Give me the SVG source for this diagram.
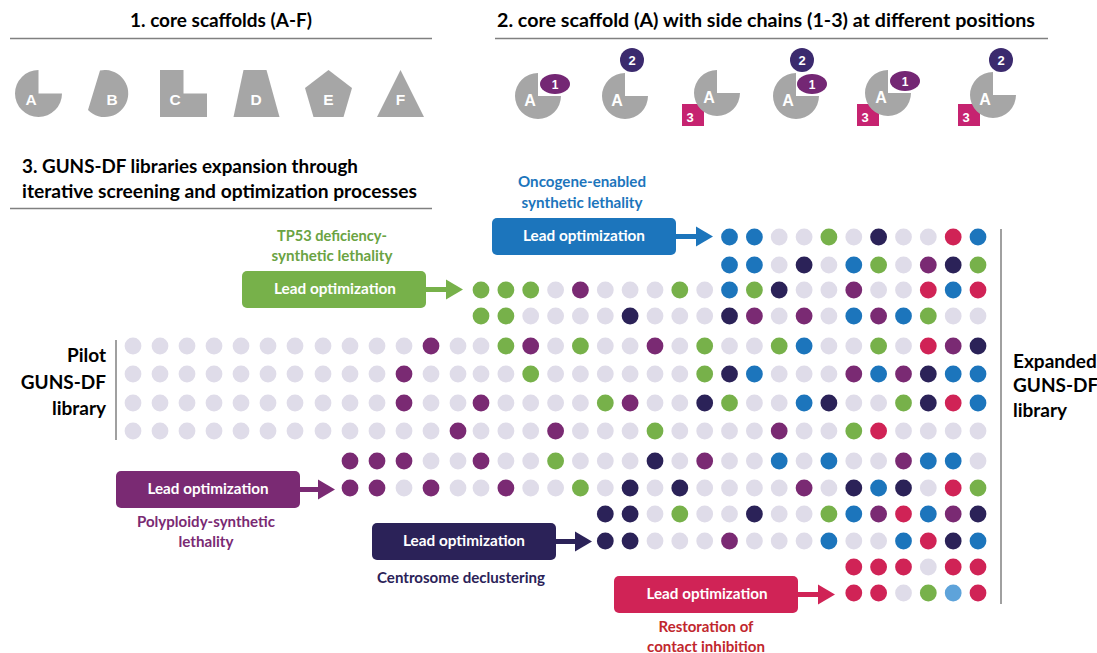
<svg xmlns="http://www.w3.org/2000/svg" width="1097" height="653" viewBox="0 0 1097 653">
<style>
.t{font-family:Lato,"Open Sans","Liberation Sans",sans-serif;font-weight:700}
.s{font-family:"Liberation Sans",Arial,sans-serif;font-weight:700;fill:#fff;text-anchor:middle}
.gray{fill:#a6a6a6}
.rule{stroke:#808080;stroke-width:1.5;fill:none}
.L{fill:#dfdce9}.G{fill:#77b14a}.P{fill:#7a2a73}.N{fill:#2b2258}.B{fill:#1c75bc}.R{fill:#d02356}.LB{fill:#5ea3da}
.c1{fill:#742774}.c2{fill:#3b2a6e}.c3{fill:#c62370}
.box text{font-size:15px;fill:#fff;text-anchor:middle}
</style>
<rect width="1097" height="653" fill="#fff"/>

<!-- titles -->
<g id="title1">
<text class="t" x="221" y="27" font-size="18" text-anchor="middle" textLength="182" lengthAdjust="spacingAndGlyphs">1. core scaffolds (A-F)</text>
<line class="rule" x1="10" y1="38.5" x2="432" y2="38.5"/>
</g>
<g id="title2">
<text class="t" x="497" y="27" font-size="18" textLength="538" lengthAdjust="spacingAndGlyphs">2. core scaffold (A) with side chains (1-3) at different positions</text>
<line class="rule" x1="495" y1="38.5" x2="1048" y2="38.5"/>
</g>
<g id="title3">
<text class="t" x="22" y="173" font-size="18" textLength="336" lengthAdjust="spacingAndGlyphs">3. GUNS-DF libraries expansion through</text>
<text class="t" x="22" y="198" font-size="18" textLength="395" lengthAdjust="spacingAndGlyphs">iterative screening and optimization processes</text>
<line class="rule" x1="10" y1="208.5" x2="432" y2="208.5"/>
</g>

<!-- section 1 scaffolds -->
<g id="scaffoldA"><path class="gray" d="M38.5,93.5 V70 A23.5,23.5 0 1 0 62,93.5 Z"/><text class="s" x="31" y="105" font-size="15.5">A</text></g>
<g id="scaffoldB"><path class="gray" d="M100,70.5 A23.5,23.5 0 1 1 88,110 Z"/><text class="s" x="112" y="105" font-size="15.5">B</text></g>
<g id="scaffoldC"><path class="gray" d="M160,70 H183.5 V93.5 H207 V117 H160 Z"/><text class="s" x="175" y="105" font-size="15.5">C</text></g>
<g id="scaffoldD"><path class="gray" d="M243.5,70 H266.5 L279.5,117 H233.5 Z"/><text class="s" x="256" y="105" font-size="15.5">D</text></g>
<g id="scaffoldE"><path class="gray" d="M328.5,70 L352,88 L343.5,117 H313.5 L305,88 Z"/><text class="s" x="328.5" y="105" font-size="15.5">E</text></g>
<g id="scaffoldF"><path class="gray" d="M400.5,70 L424,117 H377 Z"/><text class="s" x="400.5" y="105" font-size="15.5">F</text></g>

<!-- section 2 variants -->
<g id="variant1">
<path class="gray" d="M538,96 V73 A23,23 0 1 0 561,96 Z"/>
<ellipse class="c1" cx="555" cy="84" rx="15" ry="10"/><text class="s" x="555" y="88.5" font-size="12">1</text>
<text class="s" x="530" y="106" font-size="16">A</text>
</g>
<g id="variant2">
<path class="gray" d="M625,96 V73 A23,23 0 1 0 648,96 Z"/>
<circle class="c2" cx="632" cy="60" r="12"/><text class="s" x="632" y="65" font-size="13">2</text>
<text class="s" x="617" y="106" font-size="16">A</text>
</g>
<g id="variant3">
<rect class="c3" x="682" y="104" width="22" height="22"/><text class="s" x="690" y="121.5" font-size="13">3</text>
<path class="gray" d="M717,93 V70 A23,23 0 1 0 740,93 Z"/>
<text class="s" x="709" y="103" font-size="16">A</text>
</g>
<g id="variant4">
<path class="gray" d="M796,96 V73 A23,23 0 1 0 819,96 Z"/>
<ellipse class="c1" cx="812" cy="84" rx="15" ry="10"/><text class="s" x="812" y="88.5" font-size="12">1</text>
<circle class="c2" cx="802" cy="60" r="12"/><text class="s" x="802" y="65" font-size="13">2</text>
<text class="s" x="788" y="106" font-size="16">A</text>
</g>
<g id="variant5">
<rect class="c3" x="857" y="104" width="22" height="22"/><text class="s" x="865" y="121.5" font-size="13">3</text>
<path class="gray" d="M888,93 V70 A23,23 0 1 0 911,93 Z"/>
<ellipse class="c1" cx="905" cy="81" rx="15" ry="10"/><text class="s" x="905" y="85.5" font-size="12">1</text>
<text class="s" x="881" y="103" font-size="16">A</text>
</g>
<g id="variant6">
<rect class="c3" x="958" y="104" width="22" height="22"/><text class="s" x="966" y="121.5" font-size="13">3</text>
<path class="gray" d="M993,95 V72 A23,23 0 1 0 1016,95 Z"/>
<circle class="c2" cx="1001" cy="60" r="12"/><text class="s" x="1001" y="65" font-size="13">2</text>
<text class="s" x="985" y="105" font-size="16">A</text>
</g>

<!-- library labels -->
<g id="pilot">
<line class="rule" x1="116" y1="340" x2="116" y2="440"/>
<text class="t" x="106" y="362" font-size="19" text-anchor="end">Pilot</text>
<text class="t" x="106" y="389" font-size="19" text-anchor="end">GUNS-DF</text>
<text class="t" x="106" y="415" font-size="19" text-anchor="end">library</text>
</g>
<g id="expanded">
<line class="rule" x1="1001" y1="229" x2="1001" y2="604"/>
<text class="t" x="1013" y="368" font-size="19">Expanded</text>
<text class="t" x="1013" y="392" font-size="19">GUNS-DF</text>
<text class="t" x="1013" y="417" font-size="19">library</text>
</g>

<!-- lead optimization boxes -->
<g id="lead-blue" class="box">
<rect x="492" y="218" width="184" height="37" rx="5" fill="#1c75bc"/>
<text class="t" x="584" y="241" textLength="122" lengthAdjust="spacingAndGlyphs">Lead optimization</text>
</g>
<g id="label-oncogene">
<text class="t" x="582" y="187" font-size="15" fill="#1c75bc" text-anchor="middle" textLength="128" lengthAdjust="spacingAndGlyphs">Oncogene-enabled</text>
<text class="t" x="582" y="208" font-size="15" fill="#1c75bc" text-anchor="middle" textLength="121" lengthAdjust="spacingAndGlyphs">synthetic lethality</text>
</g>
<g id="lead-green" class="box">
<rect x="242" y="271" width="184" height="37" rx="5" fill="#77b14a"/>
<text class="t" x="335" y="294" textLength="122" lengthAdjust="spacingAndGlyphs">Lead optimization</text>
</g>
<g id="label-tp53">
<text class="t" x="332" y="241" font-size="15" fill="#6aa342" text-anchor="middle" textLength="110" lengthAdjust="spacingAndGlyphs">TP53 deficiency-</text>
<text class="t" x="332" y="261" font-size="15" fill="#6aa342" text-anchor="middle" textLength="121" lengthAdjust="spacingAndGlyphs">synthetic lethality</text>
</g>
<g id="lead-purple" class="box">
<rect x="116" y="471" width="184" height="37" rx="5" fill="#7a2a73"/>
<text class="t" x="208" y="494" textLength="121" lengthAdjust="spacingAndGlyphs">Lead optimization</text>
</g>
<g id="label-polyploidy">
<text class="t" x="206" y="527" font-size="15" fill="#7a2a73" text-anchor="middle" textLength="138" lengthAdjust="spacingAndGlyphs">Polyploidy-synthetic</text>
<text class="t" x="206" y="547" font-size="15" fill="#7a2a73" text-anchor="middle" textLength="55" lengthAdjust="spacingAndGlyphs">lethality</text>
</g>
<g id="lead-navy" class="box">
<rect x="372" y="523" width="184" height="37" rx="5" fill="#2b2258"/>
<text class="t" x="464" y="546" textLength="122" lengthAdjust="spacingAndGlyphs">Lead optimization</text>
</g>
<g id="label-centrosome">
<text class="t" x="461" y="583" font-size="15" fill="#2b2258" text-anchor="middle" textLength="168" lengthAdjust="spacingAndGlyphs">Centrosome declustering</text>
</g>
<g id="lead-red" class="box">
<rect x="614" y="576" width="184" height="37" rx="5" fill="#d02356"/>
<text class="t" x="707" y="599" textLength="121" lengthAdjust="spacingAndGlyphs">Lead optimization</text>
</g>
<g id="label-restoration">
<text class="t" x="706" y="632" font-size="15" fill="#c1272d" text-anchor="middle" textLength="95" lengthAdjust="spacingAndGlyphs">Restoration of</text>
<text class="t" x="706" y="652" font-size="15" fill="#c1272d" text-anchor="middle" textLength="118" lengthAdjust="spacingAndGlyphs">contact inhibition</text>
</g>

<!-- connectors -->
<g id="connectors">
<line x1="676" y1="236.5" x2="697" y2="236.5" stroke="#1c75bc" stroke-width="5"/><polygon points="696,226.5 713,236.5 696,246.5" fill="#1c75bc"/>
<line x1="426" y1="289.5" x2="447" y2="289.5" stroke="#77b14a" stroke-width="5"/><polygon points="446,279.5 463,289.5 446,299.5" fill="#77b14a"/>
<line x1="300" y1="489.5" x2="319" y2="489.5" stroke="#7a2a73" stroke-width="5"/><polygon points="318,479.5 335,489.5 318,499.5" fill="#7a2a73"/>
<line x1="556" y1="541.5" x2="576" y2="541.5" stroke="#2b2258" stroke-width="5"/><polygon points="575,531.5 592,541.5 575,551.5" fill="#2b2258"/>
<line x1="798" y1="594.5" x2="819" y2="594.5" stroke="#d02356" stroke-width="5"/><polygon points="818,584.5 835,594.5 818,604.5" fill="#d02356"/>
</g>

<!-- compound dots -->
<g id="dots">
<g id="rowA">
<circle class="B" cx="729.5" cy="237" r="8.4"/><circle class="B" cx="754.4" cy="237" r="8.4"/><circle class="L" cx="779.2" cy="237" r="8.4"/><circle class="L" cx="804.1" cy="237" r="8.4"/><circle class="G" cx="828.9" cy="237" r="8.4"/><circle class="L" cx="853.8" cy="237" r="8.4"/><circle class="N" cx="878.6" cy="237" r="8.4"/><circle class="L" cx="903.5" cy="237" r="8.4"/><circle class="L" cx="928.3" cy="237" r="8.4"/><circle class="R" cx="953.2" cy="237" r="8.4"/><circle class="B" cx="978" cy="237" r="8.4"/>
</g>
<g id="rowB">
<circle class="B" cx="729.5" cy="265" r="8.4"/><circle class="B" cx="754.4" cy="265" r="8.4"/><circle class="L" cx="779.2" cy="265" r="8.4"/><circle class="N" cx="804.1" cy="265" r="8.4"/><circle class="L" cx="828.9" cy="265" r="8.4"/><circle class="B" cx="853.8" cy="265" r="8.4"/><circle class="G" cx="878.6" cy="265" r="8.4"/><circle class="L" cx="903.5" cy="265" r="8.4"/><circle class="P" cx="928.3" cy="265" r="8.4"/><circle class="N" cx="953.2" cy="265" r="8.4"/><circle class="G" cx="978" cy="265" r="8.4"/>
</g>
<g id="rowC">
<circle class="G" cx="481" cy="290" r="8.4"/><circle class="G" cx="505.9" cy="290" r="8.4"/><circle class="G" cx="530.7" cy="290" r="8.4"/><circle class="L" cx="555.6" cy="290" r="8.4"/><circle class="P" cx="580.4" cy="290" r="8.4"/><circle class="L" cx="605.3" cy="290" r="8.4"/><circle class="L" cx="630.1" cy="290" r="8.4"/><circle class="L" cx="655" cy="290" r="8.4"/><circle class="G" cx="679.8" cy="290" r="8.4"/><circle class="L" cx="704.7" cy="290" r="8.4"/><circle class="B" cx="729.5" cy="290" r="8.4"/><circle class="G" cx="754.4" cy="290" r="8.4"/><circle class="N" cx="779.2" cy="290" r="8.4"/><circle class="L" cx="804.1" cy="290" r="8.4"/><circle class="L" cx="828.9" cy="290" r="8.4"/><circle class="P" cx="853.8" cy="290" r="8.4"/><circle class="L" cx="878.6" cy="290" r="8.4"/><circle class="L" cx="903.5" cy="290" r="8.4"/><circle class="R" cx="928.3" cy="290" r="8.4"/><circle class="B" cx="953.2" cy="290" r="8.4"/><circle class="R" cx="978" cy="290" r="8.4"/>
</g>
<g id="rowD">
<circle class="G" cx="481" cy="316" r="8.4"/><circle class="G" cx="505.9" cy="316" r="8.4"/><circle class="L" cx="530.7" cy="316" r="8.4"/><circle class="L" cx="555.6" cy="316" r="8.4"/><circle class="L" cx="580.4" cy="316" r="8.4"/><circle class="L" cx="605.3" cy="316" r="8.4"/><circle class="N" cx="630.1" cy="316" r="8.4"/><circle class="L" cx="655" cy="316" r="8.4"/><circle class="L" cx="679.8" cy="316" r="8.4"/><circle class="L" cx="704.7" cy="316" r="8.4"/><circle class="N" cx="729.5" cy="316" r="8.4"/><circle class="P" cx="754.4" cy="316" r="8.4"/><circle class="L" cx="779.2" cy="316" r="8.4"/><circle class="P" cx="804.1" cy="316" r="8.4"/><circle class="L" cx="828.9" cy="316" r="8.4"/><circle class="B" cx="853.8" cy="316" r="8.4"/><circle class="P" cx="878.6" cy="316" r="8.4"/><circle class="B" cx="903.5" cy="316" r="8.4"/><circle class="G" cx="928.3" cy="316" r="8.4"/><circle class="L" cx="953.2" cy="316" r="8.4"/><circle class="L" cx="978" cy="316" r="8.4"/>
</g>
<g id="rowE">
<circle class="L" cx="133" cy="346" r="8.4"/><circle class="L" cx="160" cy="346" r="8.4"/><circle class="L" cx="187" cy="346" r="8.4"/><circle class="L" cx="214" cy="346" r="8.4"/><circle class="L" cx="241" cy="346" r="8.4"/><circle class="L" cx="268" cy="346" r="8.4"/><circle class="L" cx="295" cy="346" r="8.4"/><circle class="L" cx="323" cy="346" r="8.4"/><circle class="L" cx="350" cy="346" r="8.4"/><circle class="L" cx="377" cy="346" r="8.4"/><circle class="L" cx="404" cy="346" r="8.4"/><circle class="P" cx="431" cy="346" r="8.4"/><circle class="L" cx="458" cy="346" r="8.4"/>
<circle class="L" cx="481" cy="346" r="8.4"/><circle class="G" cx="505.9" cy="346" r="8.4"/><circle class="P" cx="530.7" cy="346" r="8.4"/><circle class="L" cx="555.6" cy="346" r="8.4"/><circle class="G" cx="580.4" cy="346" r="8.4"/><circle class="L" cx="605.3" cy="346" r="8.4"/><circle class="L" cx="630.1" cy="346" r="8.4"/><circle class="P" cx="655" cy="346" r="8.4"/><circle class="L" cx="679.8" cy="346" r="8.4"/><circle class="G" cx="704.7" cy="346" r="8.4"/><circle class="L" cx="729.5" cy="346" r="8.4"/><circle class="L" cx="754.4" cy="346" r="8.4"/><circle class="G" cx="779.2" cy="346" r="8.4"/><circle class="B" cx="804.1" cy="346" r="8.4"/><circle class="L" cx="828.9" cy="346" r="8.4"/><circle class="L" cx="853.8" cy="346" r="8.4"/><circle class="G" cx="878.6" cy="346" r="8.4"/><circle class="L" cx="903.5" cy="346" r="8.4"/><circle class="R" cx="928.3" cy="346" r="8.4"/><circle class="P" cx="953.2" cy="346" r="8.4"/><circle class="N" cx="978" cy="346" r="8.4"/>
</g>
<g id="rowF">
<circle class="L" cx="133" cy="374" r="8.4"/><circle class="L" cx="160" cy="374" r="8.4"/><circle class="L" cx="187" cy="374" r="8.4"/><circle class="L" cx="214" cy="374" r="8.4"/><circle class="L" cx="241" cy="374" r="8.4"/><circle class="L" cx="268" cy="374" r="8.4"/><circle class="L" cx="295" cy="374" r="8.4"/><circle class="L" cx="323" cy="374" r="8.4"/><circle class="L" cx="350" cy="374" r="8.4"/><circle class="L" cx="377" cy="374" r="8.4"/><circle class="P" cx="404" cy="374" r="8.4"/><circle class="L" cx="431" cy="374" r="8.4"/><circle class="L" cx="458" cy="374" r="8.4"/>
<circle class="L" cx="481" cy="374" r="8.4"/><circle class="L" cx="505.9" cy="374" r="8.4"/><circle class="G" cx="530.7" cy="374" r="8.4"/><circle class="L" cx="555.6" cy="374" r="8.4"/><circle class="L" cx="580.4" cy="374" r="8.4"/><circle class="L" cx="605.3" cy="374" r="8.4"/><circle class="L" cx="630.1" cy="374" r="8.4"/><circle class="L" cx="655" cy="374" r="8.4"/><circle class="L" cx="679.8" cy="374" r="8.4"/><circle class="G" cx="704.7" cy="374" r="8.4"/><circle class="N" cx="729.5" cy="374" r="8.4"/><circle class="B" cx="754.4" cy="374" r="8.4"/><circle class="L" cx="779.2" cy="374" r="8.4"/><circle class="L" cx="804.1" cy="374" r="8.4"/><circle class="L" cx="828.9" cy="374" r="8.4"/><circle class="P" cx="853.8" cy="374" r="8.4"/><circle class="B" cx="878.6" cy="374" r="8.4"/><circle class="P" cx="903.5" cy="374" r="8.4"/><circle class="N" cx="928.3" cy="374" r="8.4"/><circle class="B" cx="953.2" cy="374" r="8.4"/><circle class="B" cx="978" cy="374" r="8.4"/>
</g>
<g id="rowG">
<circle class="L" cx="133" cy="403" r="8.4"/><circle class="L" cx="160" cy="403" r="8.4"/><circle class="L" cx="187" cy="403" r="8.4"/><circle class="L" cx="214" cy="403" r="8.4"/><circle class="L" cx="241" cy="403" r="8.4"/><circle class="L" cx="268" cy="403" r="8.4"/><circle class="L" cx="295" cy="403" r="8.4"/><circle class="L" cx="323" cy="403" r="8.4"/><circle class="L" cx="350" cy="403" r="8.4"/><circle class="L" cx="377" cy="403" r="8.4"/><circle class="P" cx="404" cy="403" r="8.4"/><circle class="L" cx="431" cy="403" r="8.4"/><circle class="L" cx="458" cy="403" r="8.4"/>
<circle class="P" cx="481" cy="403" r="8.4"/><circle class="L" cx="505.9" cy="403" r="8.4"/><circle class="L" cx="530.7" cy="403" r="8.4"/><circle class="L" cx="555.6" cy="403" r="8.4"/><circle class="L" cx="580.4" cy="403" r="8.4"/><circle class="G" cx="605.3" cy="403" r="8.4"/><circle class="P" cx="630.1" cy="403" r="8.4"/><circle class="L" cx="655" cy="403" r="8.4"/><circle class="L" cx="679.8" cy="403" r="8.4"/><circle class="N" cx="704.7" cy="403" r="8.4"/><circle class="G" cx="729.5" cy="403" r="8.4"/><circle class="L" cx="754.4" cy="403" r="8.4"/><circle class="L" cx="779.2" cy="403" r="8.4"/><circle class="B" cx="804.1" cy="403" r="8.4"/><circle class="N" cx="828.9" cy="403" r="8.4"/><circle class="L" cx="853.8" cy="403" r="8.4"/><circle class="L" cx="878.6" cy="403" r="8.4"/><circle class="G" cx="903.5" cy="403" r="8.4"/><circle class="N" cx="928.3" cy="403" r="8.4"/><circle class="R" cx="953.2" cy="403" r="8.4"/><circle class="B" cx="978" cy="403" r="8.4"/>
</g>
<g id="rowH">
<circle class="L" cx="133" cy="431" r="8.4"/><circle class="L" cx="160" cy="431" r="8.4"/><circle class="L" cx="187" cy="431" r="8.4"/><circle class="L" cx="214" cy="431" r="8.4"/><circle class="L" cx="241" cy="431" r="8.4"/><circle class="L" cx="268" cy="431" r="8.4"/><circle class="L" cx="295" cy="431" r="8.4"/><circle class="L" cx="323" cy="431" r="8.4"/><circle class="L" cx="350" cy="431" r="8.4"/><circle class="L" cx="377" cy="431" r="8.4"/><circle class="L" cx="404" cy="431" r="8.4"/><circle class="L" cx="431" cy="431" r="8.4"/><circle class="P" cx="458" cy="431" r="8.4"/>
<circle class="L" cx="481" cy="431" r="8.4"/><circle class="L" cx="505.9" cy="431" r="8.4"/><circle class="L" cx="530.7" cy="431" r="8.4"/><circle class="P" cx="555.6" cy="431" r="8.4"/><circle class="L" cx="580.4" cy="431" r="8.4"/><circle class="L" cx="605.3" cy="431" r="8.4"/><circle class="L" cx="630.1" cy="431" r="8.4"/><circle class="G" cx="655" cy="431" r="8.4"/><circle class="L" cx="679.8" cy="431" r="8.4"/><circle class="L" cx="704.7" cy="431" r="8.4"/><circle class="L" cx="729.5" cy="431" r="8.4"/><circle class="L" cx="754.4" cy="431" r="8.4"/><circle class="P" cx="779.2" cy="431" r="8.4"/><circle class="L" cx="804.1" cy="431" r="8.4"/><circle class="L" cx="828.9" cy="431" r="8.4"/><circle class="G" cx="853.8" cy="431" r="8.4"/><circle class="R" cx="878.6" cy="431" r="8.4"/><circle class="L" cx="903.5" cy="431" r="8.4"/><circle class="L" cx="928.3" cy="431" r="8.4"/><circle class="L" cx="953.2" cy="431" r="8.4"/><circle class="L" cx="978" cy="431" r="8.4"/>
</g>
<g id="rowI">
<circle class="P" cx="350" cy="461" r="8.4"/><circle class="P" cx="377" cy="461" r="8.4"/><circle class="P" cx="404" cy="461" r="8.4"/><circle class="L" cx="431" cy="461" r="8.4"/><circle class="L" cx="458" cy="461" r="8.4"/>
<circle class="P" cx="481" cy="461" r="8.4"/><circle class="L" cx="505.9" cy="461" r="8.4"/><circle class="L" cx="530.7" cy="461" r="8.4"/><circle class="G" cx="555.6" cy="461" r="8.4"/><circle class="L" cx="580.4" cy="461" r="8.4"/><circle class="L" cx="605.3" cy="461" r="8.4"/><circle class="L" cx="630.1" cy="461" r="8.4"/><circle class="N" cx="655" cy="461" r="8.4"/><circle class="L" cx="679.8" cy="461" r="8.4"/><circle class="P" cx="704.7" cy="461" r="8.4"/><circle class="L" cx="729.5" cy="461" r="8.4"/><circle class="L" cx="754.4" cy="461" r="8.4"/><circle class="B" cx="779.2" cy="461" r="8.4"/><circle class="L" cx="804.1" cy="461" r="8.4"/><circle class="B" cx="828.9" cy="461" r="8.4"/><circle class="L" cx="853.8" cy="461" r="8.4"/><circle class="L" cx="878.6" cy="461" r="8.4"/><circle class="P" cx="903.5" cy="461" r="8.4"/><circle class="B" cx="928.3" cy="461" r="8.4"/><circle class="B" cx="953.2" cy="461" r="8.4"/><circle class="L" cx="978" cy="461" r="8.4"/>
</g>
<g id="rowJ">
<circle class="P" cx="350" cy="488" r="8.4"/><circle class="P" cx="377" cy="488" r="8.4"/><circle class="L" cx="404" cy="488" r="8.4"/><circle class="P" cx="431" cy="488" r="8.4"/><circle class="L" cx="458" cy="488" r="8.4"/>
<circle class="L" cx="481" cy="488" r="8.4"/><circle class="P" cx="505.9" cy="488" r="8.4"/><circle class="L" cx="530.7" cy="488" r="8.4"/><circle class="L" cx="555.6" cy="488" r="8.4"/><circle class="G" cx="580.4" cy="488" r="8.4"/><circle class="L" cx="605.3" cy="488" r="8.4"/><circle class="N" cx="630.1" cy="488" r="8.4"/><circle class="L" cx="655" cy="488" r="8.4"/><circle class="N" cx="679.8" cy="488" r="8.4"/><circle class="L" cx="704.7" cy="488" r="8.4"/><circle class="L" cx="729.5" cy="488" r="8.4"/><circle class="L" cx="754.4" cy="488" r="8.4"/><circle class="L" cx="779.2" cy="488" r="8.4"/><circle class="P" cx="804.1" cy="488" r="8.4"/><circle class="L" cx="828.9" cy="488" r="8.4"/><circle class="N" cx="853.8" cy="488" r="8.4"/><circle class="B" cx="878.6" cy="488" r="8.4"/><circle class="N" cx="903.5" cy="488" r="8.4"/><circle class="L" cx="928.3" cy="488" r="8.4"/><circle class="R" cx="953.2" cy="488" r="8.4"/><circle class="G" cx="978" cy="488" r="8.4"/>
</g>
<g id="rowK">
<circle class="N" cx="605.3" cy="514" r="8.4"/><circle class="N" cx="630.1" cy="514" r="8.4"/><circle class="L" cx="655" cy="514" r="8.4"/><circle class="G" cx="679.8" cy="514" r="8.4"/><circle class="L" cx="704.7" cy="514" r="8.4"/><circle class="L" cx="729.5" cy="514" r="8.4"/><circle class="N" cx="754.4" cy="514" r="8.4"/><circle class="L" cx="779.2" cy="514" r="8.4"/><circle class="L" cx="804.1" cy="514" r="8.4"/><circle class="G" cx="828.9" cy="514" r="8.4"/><circle class="B" cx="853.8" cy="514" r="8.4"/><circle class="P" cx="878.6" cy="514" r="8.4"/><circle class="R" cx="903.5" cy="514" r="8.4"/><circle class="B" cx="928.3" cy="514" r="8.4"/><circle class="P" cx="953.2" cy="514" r="8.4"/><circle class="N" cx="978" cy="514" r="8.4"/>
</g>
<g id="rowL">
<circle class="N" cx="605.3" cy="541" r="8.4"/><circle class="N" cx="630.1" cy="541" r="8.4"/><circle class="L" cx="655" cy="541" r="8.4"/><circle class="L" cx="679.8" cy="541" r="8.4"/><circle class="L" cx="704.7" cy="541" r="8.4"/><circle class="P" cx="729.5" cy="541" r="8.4"/><circle class="L" cx="754.4" cy="541" r="8.4"/><circle class="L" cx="779.2" cy="541" r="8.4"/><circle class="L" cx="804.1" cy="541" r="8.4"/><circle class="B" cx="828.9" cy="541" r="8.4"/><circle class="L" cx="853.8" cy="541" r="8.4"/><circle class="L" cx="878.6" cy="541" r="8.4"/><circle class="B" cx="903.5" cy="541" r="8.4"/><circle class="R" cx="928.3" cy="541" r="8.4"/><circle class="N" cx="953.2" cy="541" r="8.4"/><circle class="B" cx="978" cy="541" r="8.4"/>
</g>
<g id="rowM">
<circle class="R" cx="853.8" cy="567" r="8.4"/><circle class="R" cx="878.6" cy="567" r="8.4"/><circle class="R" cx="903.5" cy="567" r="8.4"/><circle class="L" cx="928.3" cy="567" r="8.4"/><circle class="R" cx="953.2" cy="567" r="8.4"/><circle class="R" cx="978" cy="567" r="8.4"/>
</g>
<g id="rowN">
<circle class="R" cx="853.8" cy="593" r="8.4"/><circle class="R" cx="878.6" cy="593" r="8.4"/><circle class="L" cx="903.5" cy="593" r="8.4"/><circle class="G" cx="928.3" cy="593" r="8.4"/><circle class="LB" cx="953.2" cy="593" r="8.4"/><circle class="R" cx="978" cy="593" r="8.4"/>
</g>
</g>
</svg>
